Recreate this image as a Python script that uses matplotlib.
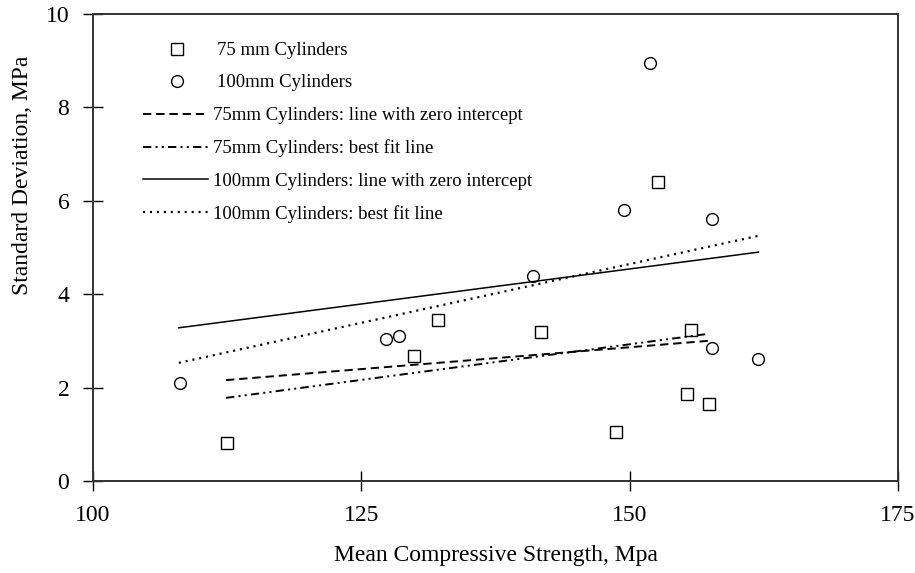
import matplotlib
matplotlib.use("Agg")
import matplotlib.pyplot as plt

plt.rcParams['font.family'] = ['Liberation Serif', 'DejaVu Serif']
plt.rcParams['lines.scale_dashes'] = False

# 75 mm cylinders: mean strength vs standard deviation
x75 = [112.5, 129.9, 132.1, 141.7, 148.7, 152.6, 155.7, 155.3, 157.4]
y75 = [0.81, 2.68, 3.45, 3.19, 1.05, 6.40, 3.23, 1.86, 1.65]

# 100 mm cylinders
x100 = [108.1, 127.3, 128.5, 141.0, 149.5, 151.9, 157.7, 157.7, 162.0]
y100 = [2.10, 3.04, 3.10, 4.39, 5.80, 8.95, 5.61, 2.85, 2.61]

# fitted lines, end points
x75_line = [112.4, 157.3]
y75_zero = [2.16, 3.00]
y75_fit = [1.78, 3.15]
x100_line = [108.0, 162.0]
y100_zero = [3.28, 4.90]
y100_fit = [2.53, 5.25]

fig = plt.figure(figsize=(9.15, 5.73), dpi=100)
ax = fig.add_axes([0.1016, 0.1606, 0.8798, 0.815])

sq, = ax.plot(x75, y75, 's', ms=8, mfc='white', mec='black', mew=1.0,
              linestyle='none', label='75 mm Cylinders')
ci, = ax.plot(x100, y100, 'o', ms=8.5, mfc='white', mec='black', mew=1.0,
              linestyle='none', label='100mm Cylinders')
l1, = ax.plot(x75_line, y75_zero, color='black', lw=1.4, dashes=(6, 3.5),
              label='75mm Cylinders: line with zero intercept')
l2, = ax.plot(x75_line, y75_fit, color='black', lw=1.4,
              dashes=(6, 3, 1.5, 3, 1.5, 3),
              label='75mm Cylinders: best fit line')
l3, = ax.plot(x100_line, y100_zero, color='black', lw=1.1, linestyle='-',
              label='100mm Cylinders: line with zero intercept')
l4, = ax.plot(x100_line, y100_fit, color='black', lw=1.6, dashes=(1.5, 3.5),
              label='100mm Cylinders: best fit line')

ax.set_xlim(100, 175)
ax.set_ylim(0, 10)
ax.set_xticks([100, 125, 150, 175])
ax.set_yticks([0, 2, 4, 6, 8, 10])
ax.tick_params(direction='inout', length=14, width=1, labelsize=17, pad=10)
ax.tick_params(axis='y', pad=10)
for s in ax.spines.values():
    s.set_linewidth(1.4)
    s.set_color('#333333')

ax.set_xlabel('Mean Compressive Strength, Mpa', fontsize=17, labelpad=14)
ax.set_ylabel('Standard Deviation, MPa', fontsize=17)
ax.yaxis.set_label_coords(-0.0745, 0.655)

leg1 = ax.legend(handles=[sq, ci], loc='upper left',
                 bbox_to_anchor=(0.0807, 0.940), frameon=False, fontsize=13.5,
                 handlelength=2.0, handletextpad=1.15, labelspacing=0.81,
                 borderpad=0, borderaxespad=0)
ax.add_artist(leg1)
ax.legend(handles=[l1, l2, l3, l4], loc='upper left',
          bbox_to_anchor=(0.0621, 0.8004), frameon=False, fontsize=13.5,
          handlelength=3.47, handletextpad=0.27, labelspacing=0.81,
          borderpad=0, borderaxespad=0)

fig.savefig('out.png', dpi=100)
